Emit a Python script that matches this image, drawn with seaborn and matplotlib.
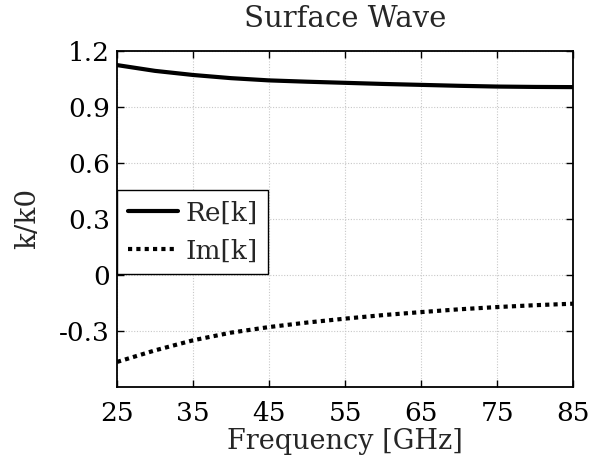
import numpy as np
import pandas as pd
import matplotlib
matplotlib.use("Agg")
import matplotlib.pyplot as plt
import seaborn as sns

freq = [25, 30, 35, 40, 45, 50, 55, 60, 65, 70, 75, 80, 85]
re_k = [1.123, 1.092, 1.070, 1.053, 1.041, 1.034, 1.028, 1.022, 1.017, 1.012, 1.008, 1.006, 1.005]
im_k = [-0.467, -0.405, -0.351, -0.31, -0.280, -0.256, -0.235, -0.216, -0.200, -0.185, -0.173, -0.163, -0.155]
xticks = [25, 35, 45, 55, 65, 75, 85]
yticks = [-0.3, 0, 0.3, 0.6, 0.9, 1.2]
ytick_labels = ["-0.3", "0", "0.3", "0.6", "0.9", "1.2"]

sns.set_theme(style="white")
plt.rcParams['font.family'] = ['DejaVu Serif']
plt.rcParams['mathtext.fontset'] = 'dejavuserif'

df = pd.DataFrame({"freq": freq, "Re[k]": re_k, "Im[k]": im_k})

fig = plt.figure(figsize=(5.94, 4.61), dpi=100)
ax = fig.add_axes([0.197, 0.161, 0.768, 0.729])

sns.lineplot(data=df, x="freq", y="Re[k]", ax=ax, color="black", linewidth=3,
             linestyle="-", label="Re[k]")
sns.lineplot(data=df, x="freq", y="Im[k]", ax=ax, color="black", linewidth=3,
             linestyle=(0, (1, 1)), label="Im[k]")

ax.set_xlim(25, 85)
ax.set_ylim(-0.6, 1.2)
ax.set_xticks(xticks)
ax.set_xticklabels([str(t) for t in xticks])
ax.set_yticks(yticks)
ax.set_yticklabels(ytick_labels)

ax.grid(True, color="#c8c8c8", linestyle=(0, (1, 1.5)), linewidth=0.8)
ax.tick_params(axis="both", which="both", direction="in", length=5, width=1,
               top=True, right=True, bottom=True, left=True,
               labelsize=19, colors="black")
ax.tick_params(axis="x", pad=10)
ax.tick_params(axis="y", pad=5)
for s in ax.spines.values():
    s.set_visible(True)
    s.set_color("black")
    s.set_linewidth(1.3)

ax.set_title("Surface Wave", fontsize=21, pad=17)
ax.set_xlabel("Frequency [GHz]", fontsize=19.5, labelpad=2)
ax.set_ylabel("k/k0", fontsize=20, labelpad=13)

leg = ax.legend(loc="lower left", bbox_to_anchor=(0, 0.335), borderaxespad=0,
                fontsize=19, frameon=True, fancybox=False, framealpha=1,
                handlelength=1.9, handletextpad=0.3, borderpad=0.4, labelspacing=0.5)
leg.get_frame().set_edgecolor("black")
leg.get_frame().set_linewidth(1.0)

fig.savefig("out.png", dpi=100)
